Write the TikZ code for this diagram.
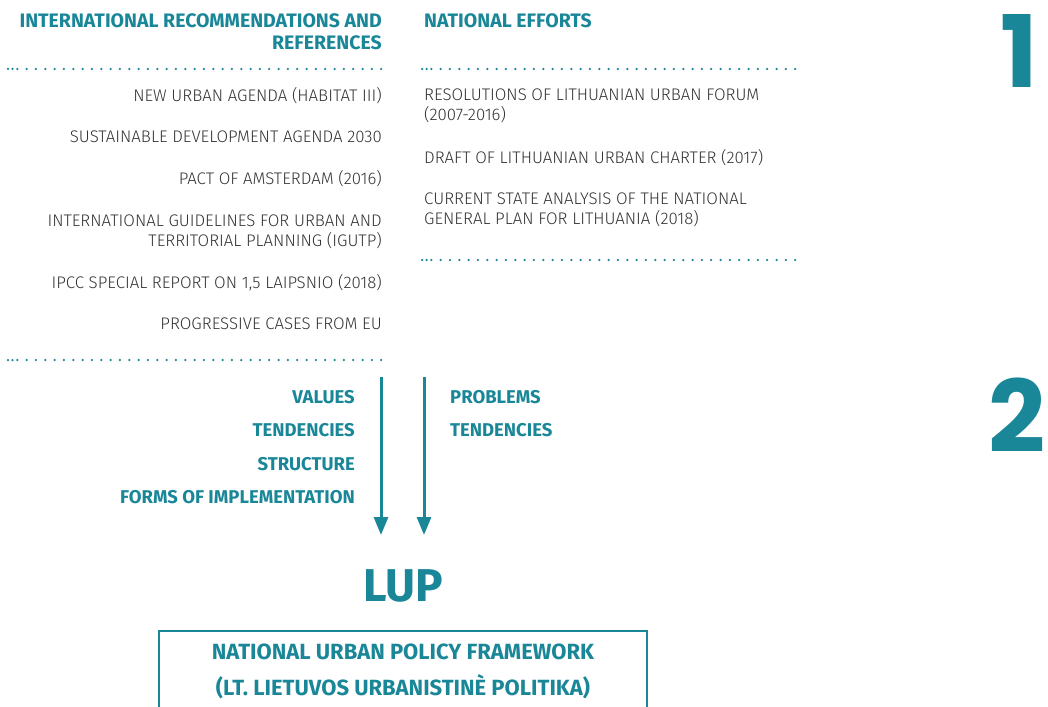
\documentclass[tikz,border=0pt]{standalone}
\usepackage{fontspec}
\setmainfont{Fira Sans}
\newfontfamily\lightfont{Fira Sans Light}
\newfontfamily\numfont{Poppins}[UprightFont=* Bold]
\usetikzlibrary{arrows.meta}
\definecolor{teal}{RGB}{26,135,153}
\definecolor{ink}{RGB}{51,51,51}
\tikzstyle{head}=[inner sep=0pt, text=teal, font=\fontsize{19.5}{22}\selectfont\bfseries]
\tikzstyle{item}=[inner sep=0pt, text=ink, font=\lightfont\fontsize{16.8}{20}\selectfont]
\tikzstyle{tag}=[inner sep=0pt, text=teal, font=\fontsize{18.5}{20}\selectfont\bfseries]
\tikzstyle{dots}=[teal, line width=2.5pt, line cap=round, dash pattern=on 0pt off 9.33pt]
\tikzset{>={Triangle[width=14pt,length=18pt]}}
\tikzset{flow/.style={->, teal, line width=3pt}}

\begin{document}
\begin{tikzpicture}[x=1pt,y=-1pt]
  \clip (0,0) rectangle (1048,706);
  \fill[white] (0,0) rectangle (1048,706);
  % column 1
  \node[head, anchor=base east, align=right] (intl) at (382,50) {INTERNATIONAL RECOMMENDATIONS AND\\REFERENCES};
  \node[head, anchor=base west] (natl) at (424,28) {NATIONAL EFFORTS};
  \draw[dots] (8,69) -- (382.5,69); \fill[teal] (12.5,69) circle (1.25pt);
  \draw[dots] (422,69) -- (796.5,69); \fill[teal] (426.5,69) circle (1.25pt);
  \node[item, anchor=base east] (nua) at (382,101.5) {NEW URBAN AGENDA (HABITAT III)};
  \node[item, anchor=base east] (sda) at (382,142.5) {SUSTAINABLE DEVELOPMENT AGENDA 2030};
  \node[item, anchor=base east] (pact) at (382,184.5) {PACT OF AMSTERDAM (2016)};
  \node[item, anchor=base east, align=right] (igutp) at (382,246) {INTERNATIONAL GUIDELINES FOR URBAN AND\\TERRITORIAL PLANNING (IGUTP)};
  \node[item, anchor=base east] (ipcc) at (382,288.5) {IPCC SPECIAL REPORT ON 1,5 LAIPSNIO (2018)};
  \node[item, anchor=base east] (eu) at (382,329.5) {PROGRESSIVE CASES FROM EU};
  \draw[dots] (8,360) -- (384.5,360); \fill[teal] (12.5,360) circle (1.25pt);
  \node[item, anchor=base west, align=left] (forum) at (424,121) {RESOLUTIONS OF LITHUANIAN URBAN FORUM\\(2007-2016)};
  \node[item, anchor=base west] (charter) at (424,163.5) {DRAFT OF LITHUANIAN URBAN CHARTER (2017)};
  \node[item, anchor=base west, align=left] (plan) at (424,224) {CURRENT STATE ANALYSIS OF THE NATIONAL\\GENERAL PLAN FOR LITHUANIA (2018)};
  \draw[dots] (422,260) -- (796.5,260); \fill[teal] (426.5,260) circle (1.25pt);
  % flow into LUP
  \coordinate (a1) at (381,377); \coordinate (b1) at (381,535);
  \coordinate (a2) at (424,377); \coordinate (b2) at (424,535);
  \draw[flow] (a1) -- (b1);
  \draw[flow] (a2) -- (b2);
  \node[tag, anchor=base east] (values) at (355,403.5) {VALUES};
  \node[tag, anchor=base east] (tendl) at (355,436.5) {TENDENCIES};
  \node[tag, anchor=base east] (struct) at (355,470.5) {STRUCTURE};
  \node[tag, anchor=base east] (forms) at (355,503.5) {FORMS OF IMPLEMENTATION};
  \node[tag, anchor=base west] (probs) at (450,403.5) {PROBLEMS};
  \node[tag, anchor=base west] (tendr) at (450,436.5) {TENDENCIES};
  \node[inner sep=0pt, text=teal, font=\fontsize{46}{50}\selectfont\bfseries, anchor=base] (lup) at (403,601) {LUP};
  \draw[teal, line width=2.5pt] (159,720) |- (647,631) -- (647,720);
  \node[tag, anchor=base, font=\fontsize{22}{36}\selectfont\bfseries, align=center] (nupf) at (403,695) {NATIONAL URBAN POLICY FRAMEWORK\\(LT. LIETUVOS URBANISTINÈ POLITIKA)};
  % step numbers
  \node[inner sep=0pt, text=teal, font=\numfont\fontsize{100}{100}\selectfont, anchor=base east] (one) at (1038,88) {1};
  \node[inner sep=0pt, text=teal, font=\numfont\fontsize{100}{100}\selectfont, anchor=base east] (two) at (1046,452) {2};
\end{tikzpicture}
\end{document}
